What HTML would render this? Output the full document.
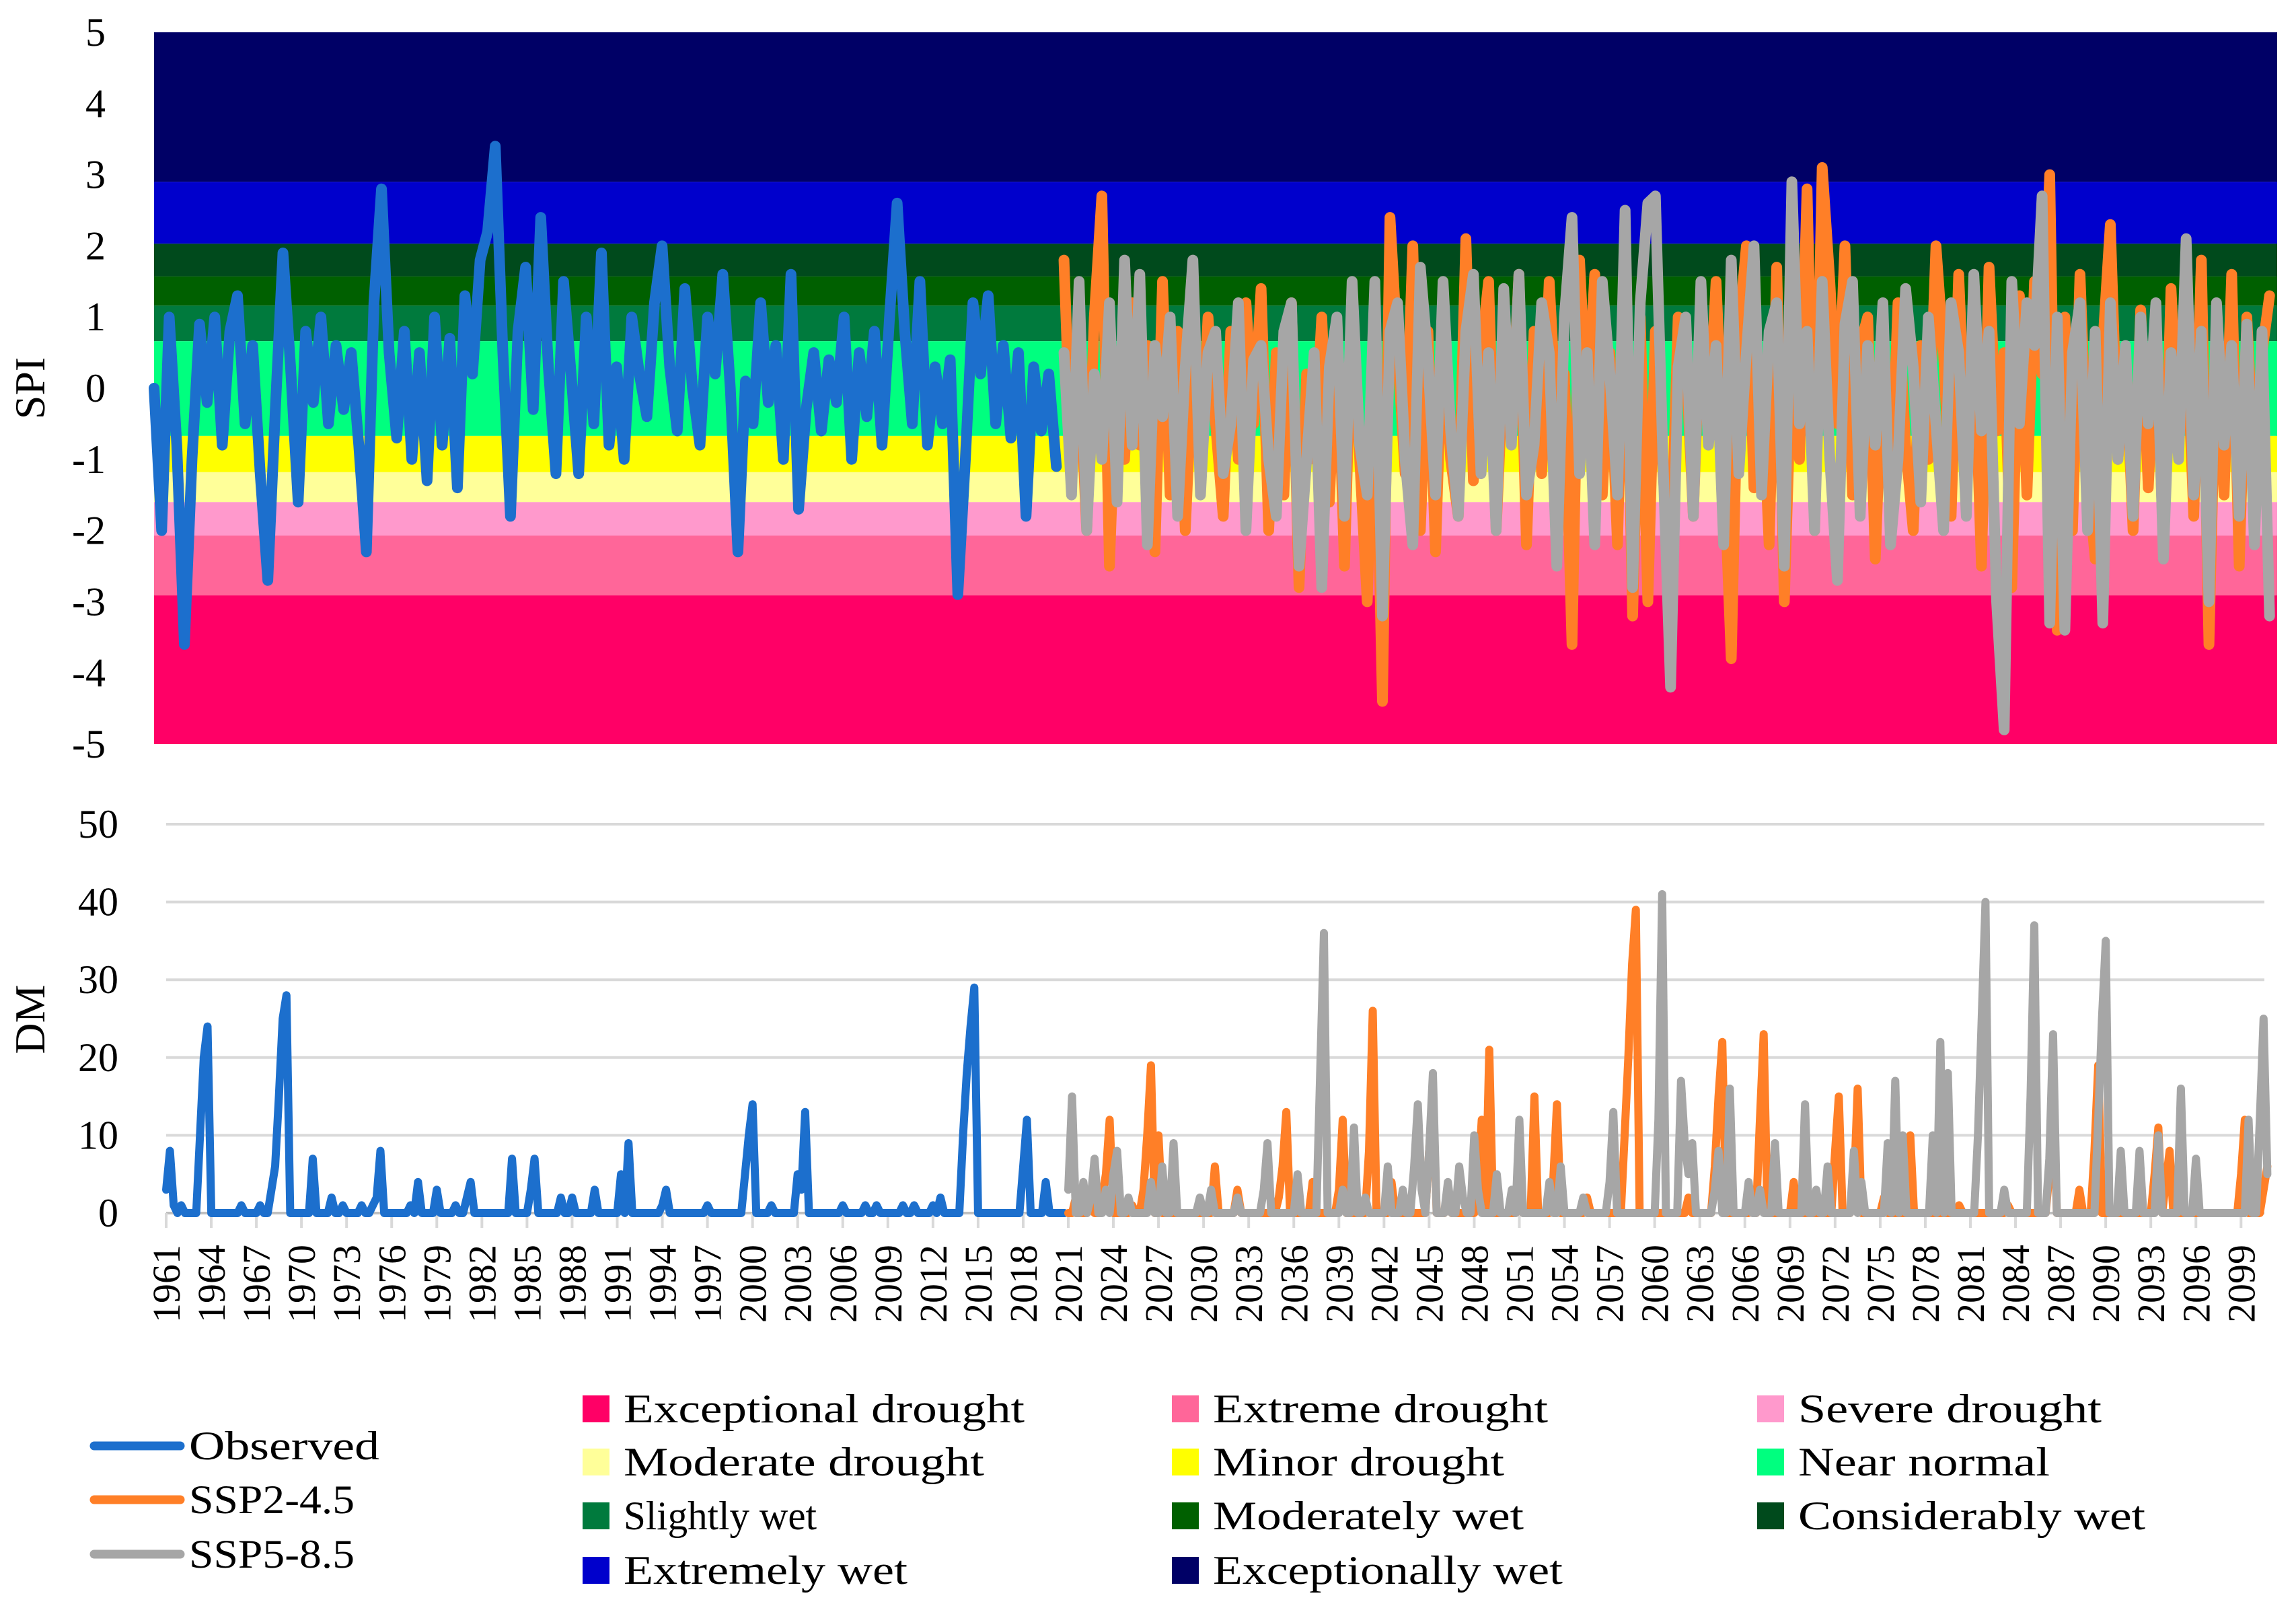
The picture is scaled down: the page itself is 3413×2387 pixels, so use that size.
<!DOCTYPE html>
<html><head><meta charset="utf-8"><style>
html,body{margin:0;padding:0;background:#fff;}
svg{display:block;font-family:"Liberation Serif",serif;}
</style></head><body>
<svg id="chart" xmlns="http://www.w3.org/2000/svg" width="3413" height="2387" viewBox="0 0 3413 2387">
<g id="topPanel"></g>
<g id="botPanel"></g>
<g id="legend"></g>
</svg>
<script>
// ---- SPI category bands (upper bounds, lower bounds) ----
const bandNames=["Exceptionally wet","Extremely wet","Considerably wet","Moderately wet","Slightly wet","Near normal","Minor drought","Moderate drought","Severe drought","Extreme drought","Exceptional drought"];
const bandTop=[5,2.9,2.03,1.57,1.16,0.66,-0.67,-1.18,-1.6,-2.07,-2.91];
const bandBottom=[2.9,2.03,1.57,1.16,0.66,-0.67,-1.18,-1.6,-2.07,-2.91,-5];
const bandColors=["#000066","#0000CC","#004A1C","#006000","#007A3D","#00FF7F","#FFFF00","#FFFF99","#FF99CC","#FF6699","#FF0066"];
const spiTicks=[5,4,3,2,1,0,-1,-2,-3,-4,-5];
const dmTicks=[0,10,20,30,40,50];
// ---- SPI series, half-year steps ----
const obsSpiStart=1961;
const obsSpi=[0,-2.0,1.0,-0.8,-3.6,-1.0,0.9,-0.2,1.0,-0.8,0.8,1.3,-0.5,0.6,-1.2,-2.7,-0.3,1.9,0.3,-1.6,0.8,-0.2,1.0,-0.5,0.6,-0.3,0.5,-0.8,-2.3,1.2,2.8,0.5,-0.7,0.8,-1.0,0.5,-1.3,1.0,-0.8,0.7,-1.4,1.3,0.2,1.8,2.2,3.4,0.5,-1.8,0.8,1.7,-0.3,2.4,0.3,-1.2,1.5,0.2,-1.2,1.0,-0.5,1.9,-0.8,0.3,-1.0,1.0,0.2,-0.4,1.2,2.0,0.3,-0.6,1.4,0.0,-0.8,1.0,0.2,1.6,0.0,-2.3,0.1,-0.5,1.2,-0.2,0.6,-1.0,1.6,-1.7,-0.3,0.5,-0.6,0.4,-0.2,1.0,-1.0,0.5,-0.4,0.8,-0.8,1.0,2.6,0.8,-0.5,1.5,-0.8,0.3,-0.5,0.4,-2.9,-1.0,1.2,0.2,1.3,-0.5,0.6,-0.7,0.5,-1.8,0.3,-0.6,0.2,-1.1];
const sspSpiStart=2021;
const ssp245Spi=[1.8,-1.2,0.3,-2.0,1.0,2.7,-2.5,0.5,-1.0,1.2,-0.8,0.6,-2.3,1.5,-1.5,0.8,-2.0,0.4,-1.2,1.0,-0.5,-1.8,0.8,-1.0,1.2,-0.5,1.4,-2.0,0.5,-1.5,1.2,-2.8,0.2,-1.0,1.0,-1.6,0.8,-2.5,1.3,-1.0,-3.0,0.5,-4.4,2.4,0.5,-1.2,2.0,-2.0,0.8,-2.3,1.0,-1.0,-1.8,2.1,-1.3,0.5,1.5,-2.0,0.4,-0.6,1.6,-2.2,0.8,-1.2,1.5,-0.5,0.2,-3.6,1.8,-0.4,1.6,-1.5,0.5,-2.2,2.0,-3.2,1.0,-3.0,0.8,-1.2,-2.5,1.0,0.5,-1.8,1.2,-0.6,1.5,-1.0,-3.8,0.8,2.0,-1.4,0.3,-2.2,1.7,-3.0,0.5,-1.0,2.8,-2.0,3.1,1.5,-0.5,2.0,-1.5,0.6,1.0,-2.4,0.5,-1.6,1.2,-0.8,-2.0,0.6,-1.0,2.0,0.5,-1.8,1.6,-1.0,0.8,-2.5,1.7,-0.6,0.5,-2.8,1.3,-1.5,1.5,0.2,3.0,-3.4,1.0,-2.0,1.6,-1.2,-2.4,0.6,2.3,-1.0,0.5,-2.0,1.1,-1.4,0.8,-2.2,1.4,-0.8,0.9,-1.8,1.8,-3.6,0.8,-1.5,1.6,-2.5,1.0,-1.2,0.5,1.3];
const ssp585Spi=[0.5,-1.5,1.5,-2.0,0.2,-1.0,1.2,-1.6,1.8,-0.8,1.6,-2.2,0.6,-0.4,1.0,-1.8,0.3,1.8,-1.5,0.5,0.8,-1.2,-0.5,1.2,-2.0,0.4,0.6,-1.0,-1.8,0.8,1.2,-2.5,-1.0,0.5,-2.8,0.3,1.0,-1.8,1.5,-0.8,-1.5,1.5,-3.2,0.8,1.2,-1.0,-2.2,1.7,0.4,-1.5,1.5,-0.6,-1.8,0.8,1.6,-1.2,0.5,-2.0,1.4,-0.8,1.6,-1.5,-0.8,1.2,0.5,-2.5,1.0,2.4,-1.2,0.5,-2.2,1.5,0.2,-1.5,2.5,-2.8,1.2,2.6,2.7,-1.0,-4.2,0.3,1.0,-1.8,1.5,-0.8,0.6,-2.2,1.8,-1.2,0.5,2.0,-1.5,0.8,1.2,-2.5,2.9,-0.5,0.8,-2.0,1.5,-1.0,-2.7,0.9,1.5,-1.8,0.6,-0.8,1.2,-2.2,-1.0,1.4,0.3,-1.6,1.0,-0.5,-2.0,1.2,0.5,-1.8,1.6,-0.6,0.8,-3.0,-4.8,1.5,-0.5,1.2,0.6,2.7,-3.3,1.0,-3.4,0.5,1.2,-2.0,0.8,-3.3,1.2,-1.0,0.6,-1.8,1.0,-0.5,1.2,-2.4,0.5,-1.0,2.1,-1.5,0.8,-3.0,1.2,-0.8,0.6,-1.8,0.9,-2.2,0.8,-3.2];
// ---- DM series, quarterly steps ----
const obsDm=[3,8,1,0, 1,0,0,0, 0,10,20,24, 0,0,0,0, 0,0,0,0, 1,0,0,0, 0,1,0,0, 3,6,15,25, 28,0,0,0, 0,0,0,7, 0,0,0,0, 2,0,0,1, 0,0,0,0, 1,0,0,1, 2,8,0,0, 0,0,0,0, 0,1,0,4, 0,0,0,0, 3,0,0,0, 0,1,0,0, 2,4,0,0, 0,0,0,0, 0,0,0,0, 7,0,0,0, 0,3,7,0, 0,0,0,0, 0,2,0,0, 2,0,0,0, 0,0,3,0, 0,0,0,0, 0,5,0,9, 0,0,0,0, 0,0,0,0, 1,3,0,0, 0,0,0,0, 0,0,0,0, 1,0,0,0, 0,0,0,0, 0,0,5,10, 14,0,0,0, 0,1,0,0, 0,0,0,0, 5,3,13,0, 0,0,0,0, 0,0,0,0, 1,0,0,0, 0,0,1,0, 0,1,0,0, 0,0,0,0, 1,0,0,1, 0,0,0,0, 1,0,2,0, 0,0,0,0, 10,18,24,29, 0,0,0,0, 0,0,0,0, 0,0,0,0, 6,12,0,0, 0,0,4,0, 0,0,0,0];
const ssp245Dm=[0,0,2,0, 0,0,1,0, 0,2,5,12, 0,0,0,0, 0,1,0,0, 3,10,19,0, 10,0,0,0, 0,0,0,0, 0,0,0,0, 0,0,0,6, 0,0,0,0, 0,3,0,0, 0,0,0,0, 0,0,0,0, 2,6,13,0, 0,0,0,0, 0,4,0,0, 0,0,0,0, 3,12,0,0, 0,0,0,0, 8,26,0,0, 0,0,4,0, 0,0,0,0, 0,0,0,0, 8,16,0,0, 0,2,0,0, 0,0,0,0, 0,4,12,0, 21,0,0,0, 0,0,0,0, 3,0,0,0, 15,0,0,0, 0,4,14,0, 0,0,0,0, 0,0,2,0, 0,0,0,0, 0,0,0,0, 10,20,32,39, 0,0,0,0, 0,0,0,0, 0,0,0,0, 0,2,0,0, 0,0,0,0, 6,15,22,0, 0,0,0,0, 0,0,3,0, 12,23,0,0, 0,0,0,0, 0,4,0,0, 0,0,0,0, 0,0,0,0, 8,15,0,0, 0,3,16,0, 0,0,0,0, 0,2,0,0, 0,0,0,0, 10,0,0,0, 0,0,0,0, 0,0,0,0, 0,1,0,0, 0,0,0,0, 0,0,0,0, 0,0,1,0, 0,0,0,0, 0,0,0,0, 0,5,16,0, 0,0,0,0, 0,3,0,0, 0,8,19,0, 0,0,0,0, 0,0,0,0, 0,0,0,0, 0,5,11,0, 4,8,0,0, 0,0,0,0, 0,0,0,0, 0,0,0,0, 0,0,0,0, 5,12,0,0, 0,0,3,6];
const ssp585Dm=[3,15,0,0, 4,0,2,7, 0,0,3,0, 5,8,0,0, 2,0,0,0, 0,0,4,0, 0,6,0,0, 9,0,0,0, 0,0,0,2, 0,0,3,0, 0,0,0,0, 0,2,0,0, 0,0,0,0, 3,9,0,0, 0,0,0,0, 0,5,0,0, 0,0,0,18, 36,0,0,0, 0,3,0,0, 11,0,0,2, 0,0,0,0, 0,6,0,0, 0,3,0,0, 6,14,3,0, 8,18,0,0, 0,4,0,0, 6,2,0,0, 10,3,0,0, 0,0,5,0, 0,0,3,0, 12,0,0,0, 0,0,0,0, 4,0,0,6, 0,0,0,0, 0,2,0,0, 0,0,0,0, 4,13,0,0, 0,0,0,0, 0,0,0,0, 0,12,41,0, 0,0,0,17, 9,5,9,0, 0,0,0,0, 3,8,0,0, 16,0,0,0, 0,4,0,0, 3,0,0,0, 9,0,0,0, 0,0,0,0, 14,0,0,3, 0,0,6,0, 0,0,0,0, 0,8,0,4, 0,0,0,0, 0,0,9,0, 17,0,10,0, 0,0,0,0, 0,0,10,0, 22,0,18,0, 0,0,0,0, 0,0,10,25, 40,0,0,0, 0,3,0,0, 0,0,0,0, 15,37,0,0, 0,7,23,0, 0,0,0,0, 0,0,0,0, 0,0,12,25, 35,0,0,0, 8,0,0,0, 0,8,0,0, 0,0,10,0, 0,0,0,0, 16,0,0,0, 7,0,0,0, 0,0,0,0, 0,0,0,0, 0,0,12,0, 0,12,25,5];
const yearLabels=[];for(let y=1961;y<=2099;y+=3)yearLabels.push(String(y));

const NS="http://www.w3.org/2000/svg";
function mk(tag,attrs,parent){const e=document.createElementNS(NS,tag);for(const k in attrs)e.setAttribute(k,attrs[k]);parent.appendChild(e);return e;}

// axis functions
const T={x0:229,x1:3385,y0:48,y1:1106};
const tx=t=>T.x0+(t-1961)/140*(T.x1-T.x0);
const ty=v=>T.y0+(5-v)/10*(T.y1-T.y0);
const B={x0:247,x1:3366,y0:1225,y1:1803};
const bx=t=>B.x0+(t-1961)*22.35;
const by=v=>B.y1-v/50*(B.y1-B.y0);

const topG=document.getElementById('topPanel');
bandColors.forEach((c,i)=>{
  const r=mk('rect',{x:T.x0,y:ty(bandTop[i]),width:T.x1-T.x0,height:ty(bandBottom[i])-ty(bandTop[i]),fill:c},topG);
  
  
});
spiTicks.forEach(v=>{
  const t=mk('text',{x:157,y:ty(v)+20,'text-anchor':'end','font-size':60,fill:'#000'},topG);
  t.textContent=String(v);
  
  
});
const st=mk('text',{x:0,y:0,'text-anchor':'middle','font-size':64,transform:'translate(66,577) rotate(-90)'},topG);
st.textContent='SPI';



function drawLine(parent,arr,start,step,xf,yf,color,w,name){
  const pts=arr.map((v,i)=>xf(start+i*step).toFixed(1)+','+yf(v).toFixed(1)).join(' ');
  const p=mk('polyline',{points:pts,fill:'none',stroke:color,'stroke-width':w,'stroke-linejoin':'round','stroke-linecap':'round'},parent);
  
  
}
drawLine(topG,obsSpi,obsSpiStart,0.5,tx,ty,'#1C6FCD',16,'spi-observed-line');
drawLine(topG,ssp245Spi,sspSpiStart,0.5,tx,ty,'#FF7F27',16,'spi-ssp245-line');
drawLine(topG,ssp585Spi,sspSpiStart,0.5,tx,ty,'#A6A6A6',16,'spi-ssp585-line');

const botG=document.getElementById('botPanel');
dmTicks.forEach(v=>{
  const g=mk('line',{x1:B.x0,x2:B.x1,y1:by(v),y2:by(v),stroke:v===0?'#bfbfbf':'#d9d9d9','stroke-width':4},botG);
  
  
  const t=mk('text',{x:176,y:by(v)+20,'text-anchor':'end','font-size':60},botG);
  t.textContent=String(v);
  
  
});
const dt=mk('text',{x:0,y:0,'text-anchor':'middle','font-size':64,transform:'translate(66,1515) rotate(-90)'},botG);
dt.textContent='DM';


yearLabels.forEach(lab=>{
  const x=bx(+lab);
  const tk=mk('line',{x1:x,x2:x,y1:B.y1,y2:B.y1+22,stroke:'#d9d9d9','stroke-width':4},botG);
  
  
  const t=mk('text',{x:0,y:0,'text-anchor':'end','font-size':58,transform:`translate(${x+20},1850) rotate(-90)`},botG);
  t.textContent=lab;
  
  
});
drawLine(botG,obsDm,1961,0.25,bx,by,'#1C6FCD',12,'dm-observed-line');
drawLine(botG,ssp245Dm,2021,0.25,bx,by,'#FF7F27',12,'dm-ssp245-line');
drawLine(botG,ssp585Dm,2021,0.25,bx,by,'#A6A6A6',12,'dm-ssp585-line');

// legend
const lg=document.getElementById('legend');
const lineLeg=[["Observed","#1C6FCD",2149,283],["SSP2-4.5","#FF7F27",2229,246],["SSP5-8.5","#A6A6A6",2310,246]];
lineLeg.forEach(d=>{
  const l=mk('line',{x1:140,x2:268,y1:d[2],y2:d[2],stroke:d[1],'stroke-width':13,'stroke-linecap':'round'},lg);
  
  
  const t=mk('text',{x:281,y:d[2]+20,'font-size':60,textLength:d[3],lengthAdjust:'spacingAndGlyphs'},lg);
  t.textContent=d[0];
  
  
});
const legOrder=[10,9,8,7,6,5,4,3,2,1,0];
const legWidths=[596,498,451,536,433,374,287,462,516,422,520];
const colX=[866,1742,2612];const rowY=[2094,2173,2253,2334];
legOrder.forEach((bi,k)=>{
  const cx=colX[k%3],cy=rowY[Math.floor(k/3)];
  const r=mk('rect',{x:cx,y:cy-20,width:40,height:40,fill:bandColors[bi]},lg);
  
  
  const t=mk('text',{x:cx+61,y:cy+20,'font-size':60,textLength:legWidths[k],lengthAdjust:'spacingAndGlyphs'},lg);
  t.textContent=bandNames[bi];
  
  
});
</script>
</body></html>
